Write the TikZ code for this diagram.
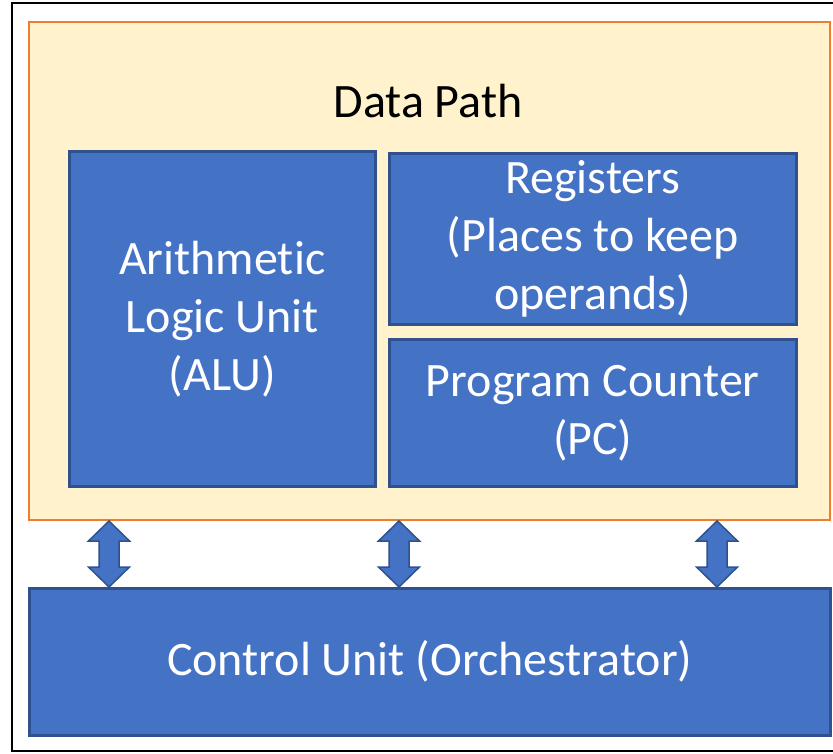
\documentclass[tikz,border=0pt]{standalone}
\usepackage{fontspec}
\setmainfont[Ligatures=NoCommon]{Carlito}
\usetikzlibrary{calc}
\definecolor{blueF}{HTML}{4472C4}
\definecolor{blueD}{HTML}{2F528F}
\definecolor{orangeD}{HTML}{ED7D31}
\definecolor{orangeF}{HTML}{FFF2CC}
\begin{document}
\begin{tikzpicture}[x=1pt,y=-1pt,
  dpbox/.style={draw=orangeD, fill=orangeF, line width=2pt, anchor=north west, inner sep=0pt},
  bluebox/.style={draw=blueD, fill=blueF, line width=2.5pt, anchor=north west, inner sep=0pt,
    text=white, align=center, font=\fontsize{48}{58}\selectfont},
  lbl/.style={font=\fontsize{48}{58}\selectfont, text=black},
  blockarrow/.style={draw=blueD, fill=blueF, line width=1.5pt, line join=miter}
]
\useasboundingbox (0,0) rectangle (833,753);
\fill[white] (0,0) rectangle (833,753);
\draw[black, line width=2.5pt] (836,3) -- (12,3) -- (12,751) -- (836,751);

\node[dpbox, minimum width=801pt, minimum height=498pt] (dp) at (28,21) {};
\node[lbl] (dplabel) at (428,101) {Data Path};

\node[bluebox, minimum width=306pt, minimum height=335pt] (alu) at (68,150) {Arithmetic\\Logic Unit\\(ALU)};
\node[bluebox, minimum width=407pt, minimum height=171pt] (reg) at (388,152) {Registers\\(Places to keep\\operands)};
\node[bluebox, minimum width=407pt, minimum height=147pt] (pc) at (388,338) {Program Counter\\(PC)};
\node[bluebox, minimum width=801pt, minimum height=147pt] (cu) at (28,587) {Control Unit (Orchestrator)};

\foreach \xx/\nn in {109/a1, 399/a2, 717/a3} {
  \coordinate (\nn) at (\xx,0);
  \draw[blockarrow] let \p1=(dp.south -| \nn), \p2=(cu.north -| \nn) in
    (\p1) -- (\x1+20.5pt,\y1-20pt) -- (\x1+10pt,\y1-20pt) -- (\x1+10pt,\y2+20pt)
    -- (\x1+20.5pt,\y2+20pt) -- (\p2) -- (\x1-20.5pt,\y2+20pt) -- (\x1-10pt,\y2+20pt)
    -- (\x1-10pt,\y1-20pt) -- (\x1-20.5pt,\y1-20pt) -- cycle;
}
\end{tikzpicture}
\end{document}
